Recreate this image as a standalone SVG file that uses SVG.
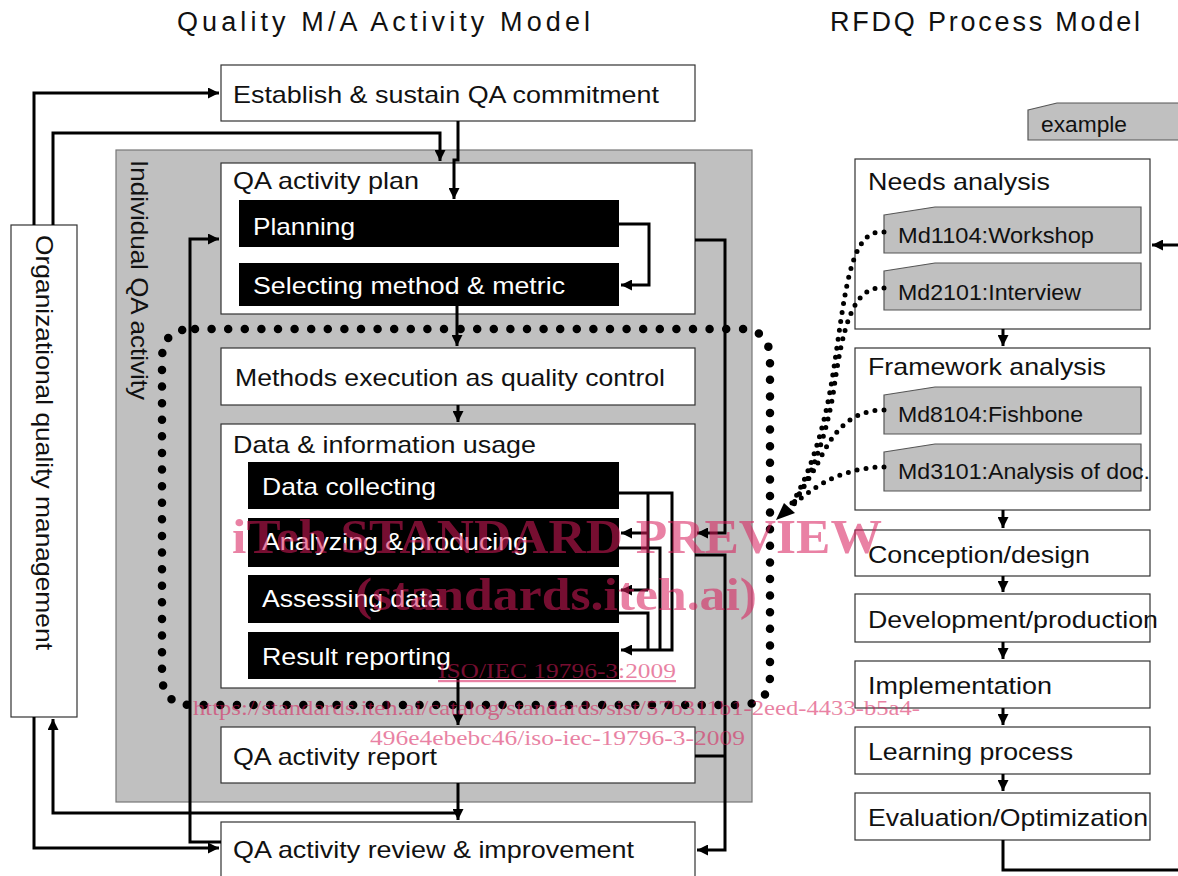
<svg xmlns="http://www.w3.org/2000/svg" width="1178" height="876" viewBox="0 0 1178 876">
<defs>
<marker id="ah" viewBox="0 0 10 10" refX="10" refY="5" markerWidth="12" markerHeight="11" markerUnits="userSpaceOnUse" orient="auto"><path d="M0,0 L10,5 L0,10 z" fill="#000"/></marker>
<style>
.t{font-family:"Liberation Sans",Arial,sans-serif;font-size:24px;fill:#111}
.w{font-family:"Liberation Sans",Arial,sans-serif;font-size:24px;fill:#fff}
.s{font-family:"Liberation Sans",Arial,sans-serif;font-size:22px;fill:#111}
.ttl{font-family:"Liberation Sans",Arial,sans-serif;font-size:27px;fill:#111}
.box{fill:#fff;stroke:#333;stroke-width:1.2}
.blk{fill:#000}
.gry{fill:#c0c0c0;stroke:#555;stroke-width:1.2}
.c{fill:none;stroke:#000;stroke-width:3}
.ca{fill:none;stroke:#000;stroke-width:3;marker-end:url(#ah)}
.dot{fill:none;stroke:#000;stroke-width:8.5;stroke-linecap:round;stroke-dasharray:0 16.6}
.sdot{fill:none;stroke:#000;stroke-width:5;stroke-linecap:round;stroke-dasharray:0 9}
.wm{font-family:"Liberation Serif","Times New Roman",serif;fill:#d81b5a;opacity:0.55}
</style>
</defs>
<rect width="1178" height="876" fill="#fff"/>

<text class="ttl" x="177" y="31" textLength="413" lengthAdjust="spacing">Quality M/A Activity Model</text>
<text class="ttl" x="830" y="31" textLength="310" lengthAdjust="spacing">RFDQ Process Model</text>

<g id="individual-qa-activity">
<rect class="gry" x="116" y="150" width="636" height="652" style="stroke:#777"/>
<text class="t" transform="translate(131,160) rotate(90)" textLength="240" lengthAdjust="spacingAndGlyphs">Individual QA activity</text>
</g>

<g id="org-quality-management">
<rect class="box" x="11" y="225" width="66" height="492"/>
<text class="t" transform="translate(36,235) rotate(90)" textLength="415" lengthAdjust="spacingAndGlyphs">Organizational quality management</text>
</g>

<g id="establish">
<rect class="box" x="221" y="65" width="474" height="56"/>
<text class="t" x="233" y="103" textLength="426" lengthAdjust="spacingAndGlyphs">Establish &amp; sustain QA commitment</text>
</g>

<g id="qa-activity-plan">
<rect class="box" x="221" y="163" width="474" height="151"/>
<text class="t" x="233" y="189" textLength="186" lengthAdjust="spacingAndGlyphs">QA activity plan</text>
</g>
<g id="planning">
<rect class="blk" x="239" y="200" width="380" height="47"/>
<text class="w" x="253" y="235" textLength="102" lengthAdjust="spacingAndGlyphs">Planning</text>
</g>
<g id="selecting">
<rect class="blk" x="239" y="263" width="380" height="43"/>
<text class="w" x="253" y="294" textLength="312" lengthAdjust="spacingAndGlyphs">Selecting method &amp; metric</text>
</g>

<g id="methods-execution">
<rect class="box" x="221" y="348" width="474" height="57"/>
<text class="t" x="235" y="386" textLength="430" lengthAdjust="spacingAndGlyphs">Methods execution as quality control</text>
</g>

<g id="data-information-usage">
<rect class="box" x="221" y="424" width="474" height="264"/>
<text class="t" x="233" y="453" textLength="303" lengthAdjust="spacingAndGlyphs">Data &amp; information usage</text>
</g>
<g id="data-collecting">
<rect class="blk" x="248" y="462" width="371" height="47"/>
<text class="w" x="262" y="495" textLength="174" lengthAdjust="spacingAndGlyphs">Data collecting</text>
</g>
<g id="analyzing">
<rect class="blk" x="248" y="518" width="371" height="49"/>
<text class="w" x="262" y="550" textLength="266" lengthAdjust="spacingAndGlyphs">Analyzing &amp; producing</text>
</g>
<g id="assessing">
<rect class="blk" x="248" y="575" width="371" height="48"/>
<text class="w" x="262" y="607" textLength="180" lengthAdjust="spacingAndGlyphs">Assessing data</text>
</g>
<g id="result-reporting">
<rect class="blk" x="248" y="632" width="371" height="47"/>
<text class="w" x="262" y="665" textLength="189" lengthAdjust="spacingAndGlyphs">Result reporting</text>
</g>

<g id="qa-activity-report">
<rect class="box" x="221" y="727" width="474" height="56"/>
<text class="t" x="233" y="765" textLength="204" lengthAdjust="spacingAndGlyphs">QA activity report</text>
</g>

<g id="qa-activity-review">
<rect class="box" x="221" y="822" width="474" height="70"/>
<text class="t" x="233" y="858" textLength="401" lengthAdjust="spacingAndGlyphs">QA activity review &amp; improvement</text>
</g>

<g id="example">
<polygon class="gry" points="1028,110 1057,103 1190,103 1190,140 1028,140"/>
<text class="s" x="1041" y="132" textLength="86" lengthAdjust="spacingAndGlyphs">example</text>
</g>

<g id="needs-analysis">
<rect class="box" x="855" y="159" width="295" height="170"/>
<text class="t" x="868" y="190" textLength="182" lengthAdjust="spacingAndGlyphs">Needs analysis</text>
</g>
<g id="md1104">
<polygon class="gry" points="884,215 935,207 1141,207 1141,253 884,253"/>
<text class="s" x="898" y="243" textLength="196" lengthAdjust="spacingAndGlyphs">Md1104:Workshop</text>
</g>
<g id="md2101">
<polygon class="gry" points="884,271 935,263 1141,263 1141,310 884,310"/>
<text class="s" x="898" y="300" textLength="183" lengthAdjust="spacingAndGlyphs">Md2101:Interview</text>
</g>

<g id="framework-analysis">
<rect class="box" x="855" y="348" width="295" height="162"/>
<text class="t" x="868" y="375" textLength="238" lengthAdjust="spacingAndGlyphs">Framework analysis</text>
</g>
<g id="md8104">
<polygon class="gry" points="884,395 935,387 1141,387 1141,434 884,434"/>
<text class="s" x="898" y="422" textLength="185" lengthAdjust="spacingAndGlyphs">Md8104:Fishbone</text>
</g>
<g id="md3101">
<polygon class="gry" points="884,452 935,444 1141,444 1141,491 884,491"/>
<text class="s" x="898" y="479" textLength="252" lengthAdjust="spacingAndGlyphs">Md3101:Analysis of doc.</text>
</g>

<g id="conception">
<rect class="box" x="855" y="530" width="295" height="46"/>
<text class="t" x="868" y="563" textLength="222" lengthAdjust="spacingAndGlyphs">Conception/design</text>
</g>
<g id="development">
<rect class="box" x="855" y="594" width="295" height="48"/>
<text class="t" x="868" y="628" textLength="290" lengthAdjust="spacingAndGlyphs">Development/production</text>
</g>
<g id="implementation">
<rect class="box" x="855" y="661" width="295" height="47"/>
<text class="t" x="868" y="694" textLength="184" lengthAdjust="spacingAndGlyphs">Implementation</text>
</g>
<g id="learning">
<rect class="box" x="855" y="727" width="295" height="47"/>
<text class="t" x="868" y="760" textLength="205" lengthAdjust="spacingAndGlyphs">Learning process</text>
</g>
<g id="evaluation">
<rect class="box" x="855" y="793" width="295" height="47"/>
<text class="t" x="868" y="826" textLength="280" lengthAdjust="spacingAndGlyphs">Evaluation/Optimization</text>
</g>

<g id="connectors">
<path class="ca" d="M34,225 V93 H219"/>
<path class="ca" d="M53,225 V133 H440 V161"/>
<path class="ca" d="M458,121 V160 H454 V199"/>
<path class="ca" d="M619,224 H649 V285 H621"/>
<path class="ca" d="M457,306 V346"/>
<path class="ca" d="M458,405 V422"/>
<path class="ca" d="M458,679 V725"/>
<path class="ca" d="M458,783 V820"/>
<path class="ca" d="M458,813 H53 V719"/>
<path class="ca" d="M34,717 V848 H219"/>
<path class="ca" d="M221,842 H190 V239 H219"/>
<path class="ca" d="M695,240 H725 V533 H697"/>
<path class="ca" d="M695,555 H725 V850 H697"/>
<path class="c" d="M695,756 H725"/>
<path class="ca" d="M619,493 H672 V650 H621"/>
<path class="c" d="M648,493 V590"/>
<path class="ca" d="M648,533 H621"/>
<path class="ca" d="M648,590 H621"/>
<path class="c" d="M619,548 H660 V650"/>
<path class="c" d="M619,613 H648 V650"/>
<path class="dot" d="M195,329 H740 Q770,329 770,359 V675 Q770,705 740,705 H192 Q162,705 162,675 V359 Q162,329 192,329"/>
<path class="sdot" d="M884,232 C848,228 845,300 832,380 C824,430 808,480 790,506"/>
<path class="sdot" d="M884,288 C852,285 842,330 833,395 C825,440 810,480 792,506"/>
<path class="sdot" d="M884,410 C852,410 835,430 822,455 C812,475 800,492 792,506"/>
<path class="sdot" d="M884,467 C855,467 830,478 815,488 C805,495 798,500 792,506"/>
<polygon points="776,520 784,503 795,513" fill="#000"/>
<path class="ca" d="M1003,329 V346"/>
<path class="ca" d="M1003,510 V528"/>
<path class="ca" d="M1003,576 V592"/>
<path class="ca" d="M1003,642 V659"/>
<path class="ca" d="M1003,708 V725"/>
<path class="ca" d="M1003,774 V791"/>
<path class="c" d="M1003,840 V870 H1180"/>
<path class="ca" d="M1180,245 H1152"/>
</g>

<g id="watermark">
<text class="wm" x="232" y="553" font-size="48" font-weight="bold" textLength="650" lengthAdjust="spacingAndGlyphs">iTeh STANDARD PREVIEW</text>
<text class="wm" x="355" y="610" font-size="46" font-weight="bold" textLength="402" lengthAdjust="spacingAndGlyphs">(standards.iteh.ai)</text>
<text class="wm" x="438" y="678" font-size="22" text-decoration="underline" textLength="238" lengthAdjust="spacingAndGlyphs">ISO/IEC 19796-3:2009</text>
<text class="wm" x="193" y="715" font-size="22" textLength="727" lengthAdjust="spacingAndGlyphs">https://standards.iteh.ai/catalog/standards/sist/57b311b1-2eed-4433-b5a4-</text>
<text class="wm" x="370" y="745" font-size="22" textLength="375" lengthAdjust="spacingAndGlyphs">496e4ebebc46/iso-iec-19796-3-2009</text>
</g>
</svg>
